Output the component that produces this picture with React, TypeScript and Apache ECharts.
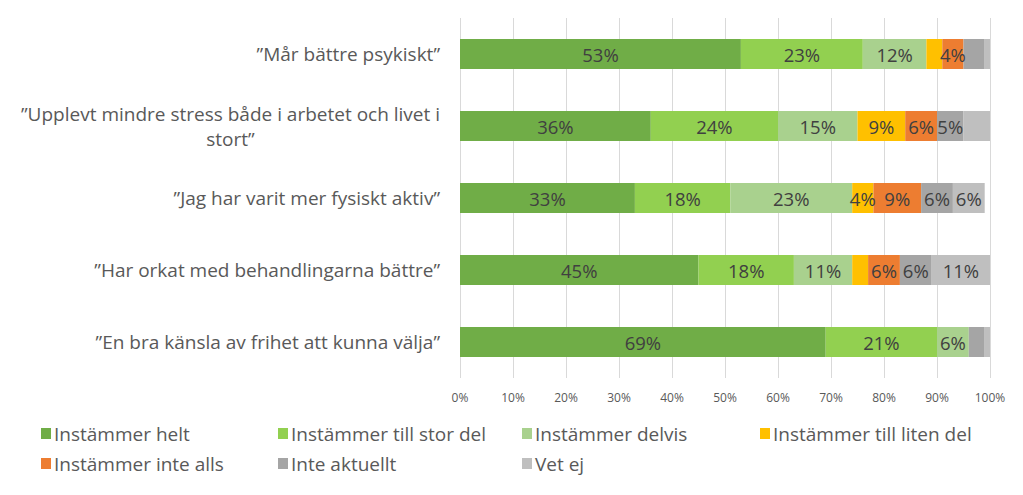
import React, { useEffect, useRef } from "react";
import * as echarts from "echarts";

const categories = [
  "”Mår bättre psykiskt”",
  "”Upplevt mindre stress både i arbetet och livet i\nstort”",
  "”Jag har varit mer fysiskt aktiv”",
  "”Har orkat med behandlingarna bättre”",
  "”En bra känsla av frihet att kunna välja”",
];

const seriesNames = [
  "Instämmer helt",
  "Instämmer till stor del",
  "Instämmer delvis",
  "Instämmer till liten del",
  "Instämmer inte alls",
  "Inte aktuellt",
  "Vet ej",
];

const helt = [53, 36, 33, 45, 69];
const storDel = [23, 24, 18, 18, 21];
const delvis = [12, 15, 23, 11, 6];
const litenDel = [3, 9, 4, 3, 0];
const inteAlls = [4, 6, 9, 6, 0];
const inteAktuellt = [4, 5, 6, 6, 3];
const vetEj = [1, 5, 6, 11, 1];

const seriesValues = [helt, storDel, delvis, litenDel, inteAlls, inteAktuellt, vetEj];

// [seriesIndex, categoryIndex] of segments whose label is not shown
const hiddenLabels = [
  [3, 0],
  [5, 0],
  [6, 0],
  [6, 1],
  [3, 3],
  [5, 4],
  [6, 4],
];

const xTicks = [0, 10, 20, 30, 40, 50, 60, 70, 80, 90, 100];

const colors = ["#70AD47", "#92D050", "#A9D18E", "#FFC000", "#ED7D31", "#A5A5A5", "#BFBFBF"];

const legendPos = [
  [36, 419],
  [273, 419],
  [517, 419],
  [755, 419],
  [36, 449],
  [273, 449],
  [517, 449],
];

const FONT = "Open Sans";

export default function App() {
  const ref = useRef<HTMLDivElement>(null);
  useEffect(() => {
    document.body.style.margin = "0";
    const chart = echarts.init(ref.current!, null, { renderer: "svg" });
    const series = seriesNames.map((name, si) => ({
      name,
      type: "bar",
      stack: "total",
      barWidth: 30,
      itemStyle: { color: colors[si] },
      label: {
        show: true,
        position: "inside",
        formatter: (p: any) => (p.value > 0 ? p.value + "%" : ""),
        color: "#404040",
        fontSize: 18.5,
        fontFamily: FONT,
      },
      data: seriesValues[si].map((v, ci) => {
        const hidden = hiddenLabels.some((h) => h[0] === si && h[1] === ci);
        return hidden ? { value: v, label: { show: false } } : v;
      }),
    }));
    chart.setOption({
      animation: false,
      color: colors,
      grid: { left: 460, right: 33, top: 18, bottom: 117 },
      xAxis: {
        type: "value",
        min: 0,
        max: 100,
        interval: 10,
        axisLine: { show: false },
        axisTick: { show: false },
        splitLine: { show: true, lineStyle: { color: "#D9D9D9", width: 1 } },
        axisLabel: {
          color: "#595959",
          fontSize: 12,
          fontFamily: FONT,
          margin: 13,
          formatter: (v: number) => (xTicks.includes(v) ? v + "%" : ""),
        },
      },
      yAxis: {
        type: "category",
        inverse: true,
        data: categories,
        axisLine: { show: false },
        axisTick: { show: false },
        axisLabel: {
          color: "#595959",
          fontSize: 19,
          fontFamily: FONT,
          margin: 20,
          formatter: (v: string) =>
            v
              .split("\n")
              .map((l) => "{c|" + l + "}")
              .join("\n"),
          rich: {
            c: {
              align: "center",
              color: "#595959",
              fontSize: 19,
              fontFamily: FONT,
              lineHeight: 25,
            },
          },
        },
      },
      legend: seriesNames.map((name, i) => ({
        data: [name],
        left: legendPos[i][0],
        top: legendPos[i][1],
        icon: "rect",
        itemWidth: 10,
        itemHeight: 11,
        itemGap: 0,
        selectedMode: false,
        textStyle: { color: "#595959", fontSize: 19, fontFamily: FONT, padding: [0, 0, 0, -2] },
      })),
      series,
    });
    return () => chart.dispose();
  }, []);
  return <div ref={ref} style={{ width: 1023, height: 495 }} />;
}
